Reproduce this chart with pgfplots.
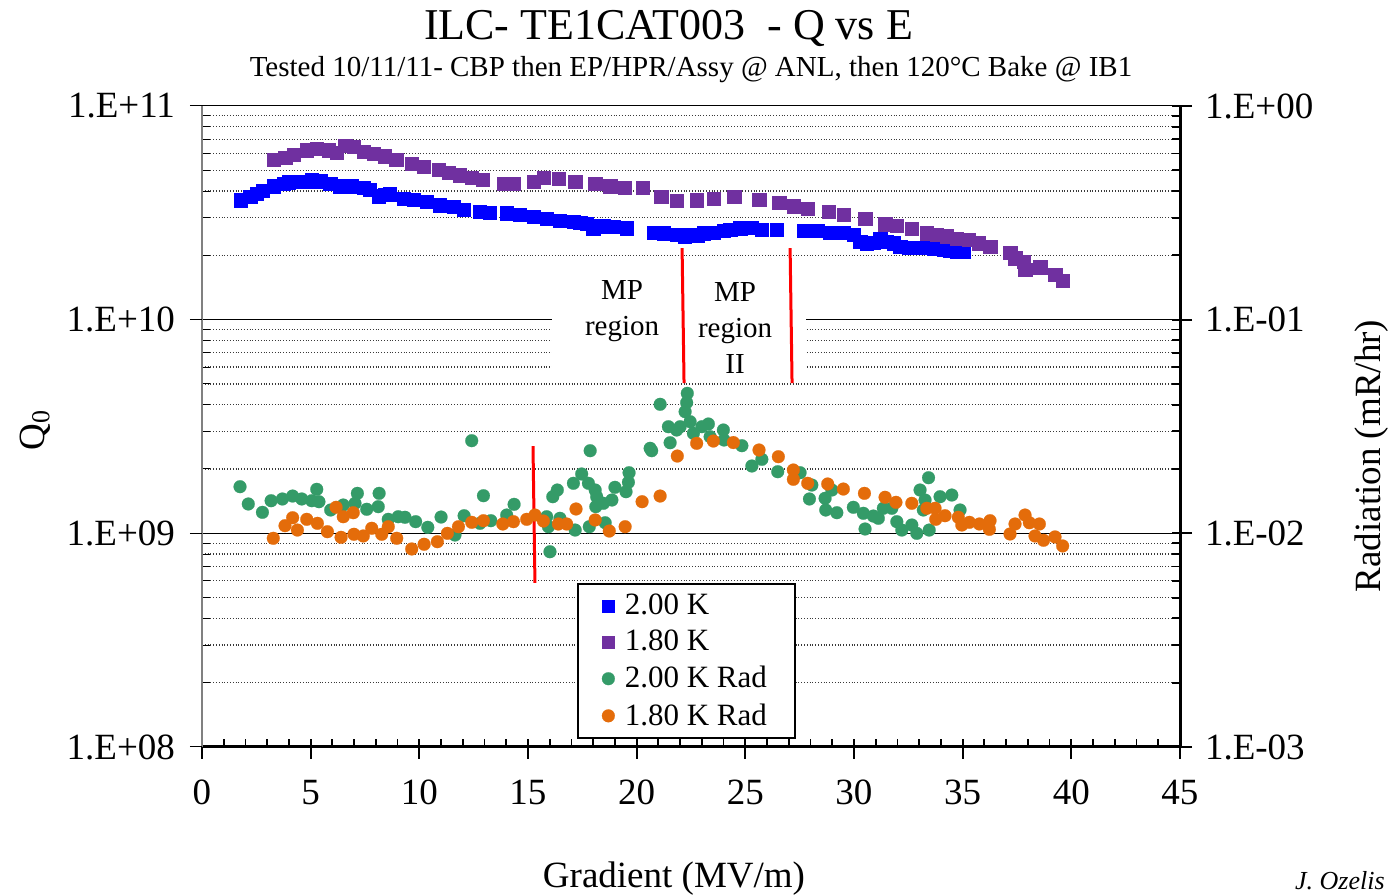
\documentclass[border=0pt]{standalone}
\usepackage{pgfplots}
\pgfplotsset{compat=1.18}
\usepackage{fontspec}
\setmainfont{Liberation Serif}
\definecolor{cBlue}{RGB}{0,0,255}
\definecolor{cPurple}{RGB}{112,48,160}
\definecolor{cGreen}{RGB}{52,155,104}
\definecolor{cOrange}{RGB}{228,108,10}

\pgfplotstableread{
E Q
1.78 3.63e10
2.21 3.76e10
2.50 3.90e10
2.79 4.01e10
3.28 4.22e10
3.74 4.35e10
4.00 4.40e10
4.23 4.42e10
4.66 4.42e10
5.05 4.50e10
5.25 4.45e10
5.43 4.47e10
5.89 4.35e10
6.35 4.22e10
6.60 4.20e10
6.89 4.22e10
7.42 4.16e10
7.70 4.05e10
8.11 3.79e10
8.40 3.85e10
8.65 3.87e10
9.26 3.70e10
9.72 3.66e10
10.34 3.56e10
10.95 3.44e10
11.57 3.38e10
12.02 3.26e10
12.79 3.20e10
13.25 3.17e10
14.02 3.15e10
14.63 3.09e10
15.25 3.03e10
15.86 2.98e10
16.47 2.91e10
17.09 2.88e10
17.40 2.85e10
17.70 2.82e10
18.00 2.68e10
18.20 2.75e10
18.47 2.74e10
18.93 2.72e10
19.54 2.68e10
20.77 2.55e10
21.23 2.54e10
21.84 2.49e10
22.20 2.45e10
22.46 2.49e10
22.80 2.47e10
23.07 2.54e10
23.53 2.55e10
23.99 2.60e10
24.30 2.64e10
24.76 2.68e10
25.30 2.69e10
25.76 2.65e10
26.45 2.63e10
27.67 2.61e10
28.30 2.60e10
28.90 2.55e10
29.50 2.55e10
29.97 2.49e10
30.28 2.32e10
30.59 2.28e10
30.90 2.30e10
31.20 2.38e10
31.50 2.32e10
31.81 2.28e10
32.12 2.19e10
32.50 2.18e10
32.89 2.17e10
33.30 2.18e10
33.66 2.16e10
34.11 2.12e10
34.40 2.10e10
34.73 2.08e10
35.04 2.08e10
}\tblue

\pgfplotstableread{
E Q
3.31 5.59e10
3.82 5.75e10
4.20 5.90e10
4.82 6.22e10
5.28 6.34e10
5.81 6.22e10
6.20 6.04e10
6.58 6.52e10
6.96 6.45e10
7.42 6.11e10
7.88 6.01e10
8.42 5.83e10
8.93 5.63e10
9.65 5.39e10
10.18 5.20e10
10.87 5.02e10
11.34 4.87e10
11.84 4.75e10
12.41 4.64e10
12.92 4.54e10
13.87 4.35e10
14.33 4.32e10
15.25 4.42e10
15.71 4.64e10
16.40 4.59e10
17.17 4.42e10
18.09 4.32e10
18.78 4.22e10
19.44 4.16e10
20.26 4.14e10
21.12 3.76e10
21.84 3.61e10
22.76 3.63e10
23.53 3.67e10
24.48 3.76e10
25.63 3.66e10
26.55 3.53e10
27.21 3.40e10
27.87 3.30e10
28.82 3.20e10
29.51 3.09e10
30.51 2.96e10
31.43 2.80e10
31.97 2.75e10
32.66 2.66e10
33.35 2.54e10
33.81 2.51e10
34.27 2.46e10
34.73 2.40e10
35.27 2.36e10
35.73 2.28e10
36.26 2.19e10
37.18 2.06e10
37.41 1.94e10
37.80 1.87e10
37.87 1.71e10
38.56 1.76e10
39.25 1.62e10
39.60 1.52e10
}\tpurple

\pgfplotstableread{
E R
1.75 0.01653
2.13 0.01372
2.78 0.01254
3.18 0.01421
3.70 0.01448
4.17 0.01495
4.59 0.01448
5.05 0.01421
5.28 0.01607
5.38 0.01406
5.92 0.01286
6.50 0.01357
7.04 0.01382
7.15 0.01539
7.58 0.01296
8.11 0.01333
8.15 0.01539
8.57 0.01163
9.03 0.01196
9.34 0.01189
9.83 0.01134
10.39 0.01067
11.00 0.01192
11.64 0.00982
12.06 0.01209
12.41 0.02714
12.79 0.01114
12.95 0.01500
13.29 0.01146
14.02 0.01218
14.36 0.01367
15.86 0.01196
15.94 0.01074
16.01 0.00820
16.14 0.01484
16.35 0.01595
16.47 0.01176
17.09 0.01715
17.17 0.01036
17.47 0.01896
17.78 0.01715
17.82 0.01074
17.86 0.02436
18.09 0.01595
18.16 0.01484
18.12 0.01333
18.47 0.01382
18.55 0.01121
18.86 0.01432
19.00 0.01642
19.51 0.01566
19.62 0.01734
19.65 0.01922
20.62 0.02500
20.69 0.02436
21.08 0.04017
21.46 0.03155
21.54 0.02655
21.84 0.03045
22.00 0.03155
22.23 0.03709
22.30 0.04088
22.33 0.04522
22.46 0.03331
22.61 0.02938
23.00 0.03155
23.30 0.03249
23.38 0.02833
23.99 0.03045
24.02 0.02734
24.84 0.02571
25.30 0.02066
25.76 0.02220
26.49 0.01943
27.52 0.01922
28.06 0.01683
27.95 0.01448
28.67 0.01459
28.70 0.01286
28.98 0.01595
29.21 0.01249
29.97 0.01324
30.43 0.01241
30.51 0.01048
30.89 0.01205
31.12 0.01176
31.35 0.01310
31.74 0.01310
31.97 0.01134
32.20 0.01036
32.66 0.01094
32.89 0.01000
33.04 0.01595
33.27 0.01432
33.19 0.01286
33.43 0.01821
33.46 0.01036
33.96 0.01484
34.50 0.01511
34.88 0.01286
}\tgreen

\pgfplotstableread{
E R
3.28 0.00948
3.82 0.01086
4.17 0.01183
4.39 0.01036
4.82 0.01163
5.31 0.01114
5.77 0.01018
6.17 0.01324
6.40 0.00958
6.50 0.01196
6.96 0.01249
6.99 0.00990
7.42 0.00972
7.81 0.01056
8.27 0.00990
8.57 0.01074
8.96 0.00948
9.65 0.00845
10.22 0.00889
10.83 0.00914
11.29 0.01000
11.80 0.01074
12.41 0.01126
12.95 0.01146
13.84 0.01106
14.33 0.01134
14.94 0.01163
15.32 0.01218
15.71 0.01142
16.40 0.01106
16.78 0.01106
17.21 0.01300
18.09 0.01155
18.74 0.01025
19.47 0.01074
20.25 0.01406
21.08 0.01495
21.87 0.02300
22.76 0.02638
23.53 0.02704
24.45 0.02660
25.63 0.02455
26.52 0.02284
27.21 0.01979
27.21 0.01790
27.87 0.01715
28.79 0.01702
29.51 0.01612
30.48 0.01539
31.43 0.01475
31.93 0.01397
32.66 0.01382
33.35 0.01310
33.73 0.01310
33.76 0.01163
34.19 0.01209
34.80 0.01189
34.96 0.01094
35.31 0.01126
35.77 0.01106
36.26 0.01146
36.23 0.01044
37.18 0.00993
37.41 0.01106
37.87 0.01218
38.07 0.01121
38.53 0.01106
38.33 0.00972
38.72 0.00928
39.25 0.00962
39.60 0.00873
}\torange

\begin{document}
\begin{tikzpicture}
\begin{axis}[
  at={(101pt,74pt)}, anchor=south west,
  scale only axis, width=489pt, height=320.5pt,
  xmin=0, xmax=45, ymode=log, ymin=1e8, ymax=1e11,
  axis x line*=bottom, axis y line*=left,
  x axis line style={-, line width=1.5pt, black},
  y axis line style={-, line width=0.6pt, gray},
  xtick={0,5,...,45}, minor x tick num=4,
  ytick={1e8,1e9,1e10,1e11},
  yticklabels={1.E+08,1.E+09,1.E+10,1.E+11},
  minor ytick={2e8,3e8,4e8,5e8,6e8,7e8,8e8,9e8,2e9,3e9,4e9,5e9,6e9,7e9,8e9,9e9,2e10,3e10,4e10,5e10,6e10,7e10,8e10,9e10},
  tick align=inside, major tick length=4pt, minor tick length=4pt,
  xtick style={line width=0.9pt, black},
  ytick style={line width=0.5pt, black},
  extra x ticks={0,5,...,45}, extra x tick labels={},
  extra x tick style={tick align=outside, major tick length=6pt},
  extra y ticks={1e8,1e9,1e10,1e11}, extra y tick labels={},
  extra y tick style={tick align=outside, major tick length=6pt, grid=none},
  ymajorgrids, yminorgrids,
  major grid style={black, line width=0.5pt},
  minor grid style={gray!45!black, densely dotted, line width=0.55pt},
  /pgf/number format/assume math mode=true,
  xticklabel style={font=\fontsize{18.5}{20}\selectfont, yshift=-13pt},
  yticklabel style={font=\fontsize{18.5}{20}\selectfont, xshift=-10pt},
  xlabel={Gradient (MV/m)},
  every axis x label/.style={at={(axis description cs:0.4826,-0.205)}, anchor=center, font=\fontsize{18.5}{20}\selectfont},
  ylabel={Q\textsubscript{0}},
  every axis y label/.style={at={(axis description cs:-0.171,0.4945)}, anchor=center, rotate=90, font=\fontsize{18.5}{20}\selectfont},
]
\fill[white] (axis cs:16.1,1.5e10) rectangle (axis cs:27.8,5.4e9);
\addplot[only marks, mark=square*, mark size=3.3pt, mark options={draw=cBlue, fill=cBlue, line width=0.1pt}] table[x=E, y=Q] {\tblue};
\addplot[only marks, mark=square*, mark size=3.3pt, mark options={draw=cPurple, fill=cPurple, line width=0.1pt}] table[x=E, y=Q] {\tpurple};
\node[align=center, font=\fontsize{14.5}{18}\selectfont] at (axis cs:19.33,1.098e10) {MP\\region};
\node[align=center, font=\fontsize{14.5}{18}\selectfont] at (axis cs:24.53,9.14e9) {MP\\region\\II};
\end{axis}

\begin{axis}[
  at={(101pt,74pt)}, anchor=south west,
  scale only axis, width=489pt, height=320.5pt,
  xmin=0, xmax=45, ymode=log, ymin=1e-3, ymax=1,
  axis x line=none, axis y line*=right,
  y axis line style={-, line width=1.5pt, black},
  ytick={1e-3,1e-2,1e-1,1},
  yticklabels={1.E-03,1.E-02,1.E-01,1.E+00},
  minor ytick={2e-3,3e-3,4e-3,5e-3,6e-3,7e-3,8e-3,9e-3,2e-2,3e-2,4e-2,5e-2,6e-2,7e-2,8e-2,9e-2,2e-1,3e-1,4e-1,5e-1,6e-1,7e-1,8e-1,9e-1},
  tick align=inside, major tick length=4pt, minor tick length=4pt,
  ytick style={line width=0.9pt, black},
  extra y ticks={1e-3,1e-2,1e-1,1}, extra y tick labels={},
  extra y tick style={tick align=outside, major tick length=6pt, grid=none},
  yticklabel style={font=\fontsize{18.5}{20}\selectfont, xshift=9pt},
  ylabel={Radiation (mR/hr)},
  every axis y label/.style={at={(axis description cs:1.196,0.454)}, anchor=center, rotate=90, font=\fontsize{18.5}{20}\selectfont},
  legend style={at={(axis description cs:0.3834,0.2558)}, anchor=north west, draw=black, line width=1pt, fill=white, font=\fontsize{15.5}{17}\selectfont, row sep=2.3pt, inner xsep=12pt, inner ysep=3pt, /tikz/every odd column/.append style={column sep=3pt}},
  legend cell align=left,
]
\addlegendimage{only marks, mark=square*, mark size=3pt, mark options={draw=cBlue, fill=cBlue, line width=0.1pt}}
\addlegendentry{2.00 K}
\addlegendimage{only marks, mark=square*, mark size=3pt, mark options={draw=cPurple, fill=cPurple, line width=0.1pt}}
\addlegendentry{1.80 K}
\addplot[only marks, mark=*, mark size=3.2pt, mark options={draw=cGreen, fill=cGreen, line width=0.1pt}] table[x=E, y=R] {\tgreen};
\addlegendentry{2.00 K Rad}
\addplot[only marks, mark=*, mark size=3.2pt, mark options={draw=cOrange, fill=cOrange, line width=0.1pt}] table[x=E, y=R] {\torange};
\addlegendentry{1.80 K Rad}
\addplot[red, line width=1.5pt, forget plot] coordinates {(15.23,0.0256) (15.32,0.00586)};
\addplot[red, line width=1.5pt, forget plot] coordinates {(22.09,0.216) (22.18,0.0505)};
\addplot[red, line width=1.5pt, forget plot] coordinates {(27.06,0.216) (27.15,0.0505)};
\end{axis}

\node[anchor=base, font=\fontsize{22}{26}\selectfont] at (334.25pt,427.5pt) {ILC- TE1CAT003\ \ - Q vs E};
\node[anchor=base, font=\fontsize{14.5}{17}\selectfont] at (345.5pt,409pt) {Tested 10/11/11- CBP then EP/HPR/Assy @ ANL, then 120°C Bake @ IB1};
\node[anchor=base west, font=\itshape\fontsize{13}{15}\selectfont] at (644pt,3pt) {J. Ozelis};
\pgfresetboundingbox
\path[use as bounding box] (0,0) rectangle (696.5pt,447.5pt);
\end{tikzpicture}
\end{document}
